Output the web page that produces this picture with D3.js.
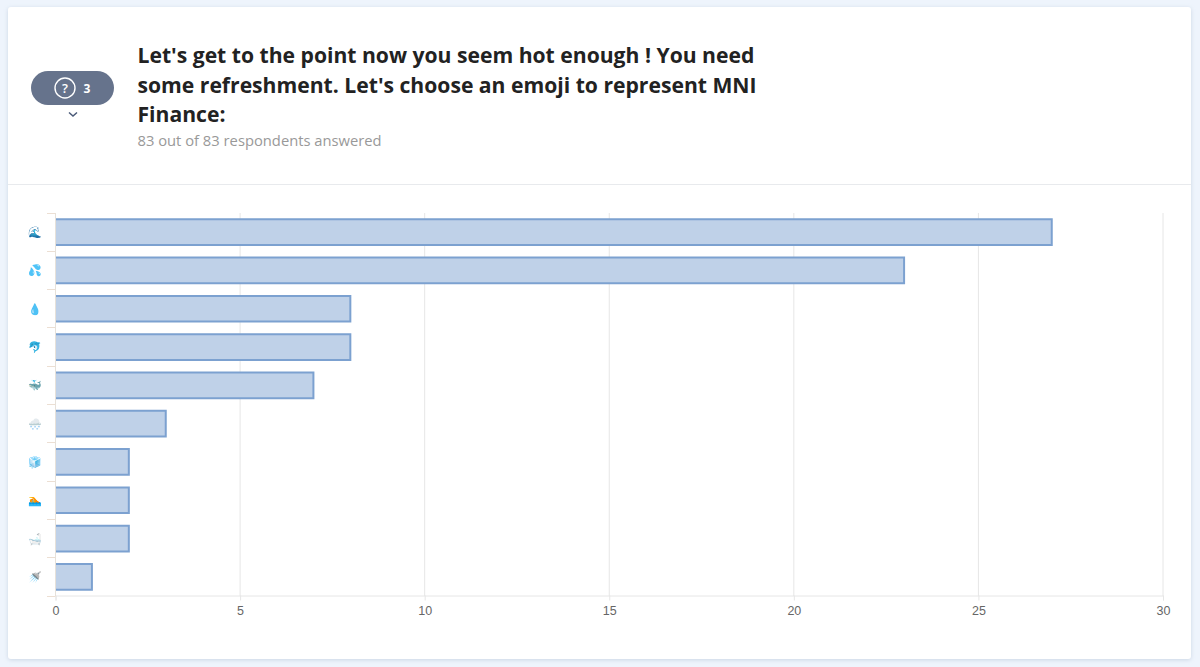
<!DOCTYPE html>
<html><head><meta charset="utf-8">
<script src="https://cdnjs.cloudflare.com/ajax/libs/d3/7.8.5/d3.min.js"></script>
<style>html,body{margin:0;padding:0;background:#eef4fc;width:1200px;height:667px;overflow:hidden}</style>
</head><body><div id="chart"></div>
<script>
const categories = ["🌊","💦","💧","🐬","🐳","🌨","🧊","🏊","🛁","🚿"];
const values = [27,23,8,8,7,3,2,2,2,1];
const xTicks = [0,5,10,15,20,25,30];
const titleLines = ["Let's get to the point now you seem hot enough ! You need","some refreshment. Let's choose an emoji to represent MNI","Finance:"];
const subtitle = "83 out of 83 respondents answered";
const questionNumber = "3";

const svg = d3.select("#chart").append("svg").attr("width",1200).attr("height",667).style("display","block");
const font = "'Open Sans','Noto Sans',sans-serif";
const defs = svg.append("defs");
const f = defs.append("filter").attr("id","sh").attr("x","-2%").attr("y","-2%").attr("width","104%").attr("height","104%");
f.append("feDropShadow").attr("dx",0).attr("dy",1).attr("stdDeviation",2).attr("flood-color","#9fb2c8").attr("flood-opacity",0.45);
svg.append("rect").attr("x",8).attr("y",7).attr("width",1183).attr("height",652).attr("rx",3).attr("fill","#fff").attr("filter","url(#sh)");
svg.append("line").attr("x1",8).attr("x2",1191).attr("y1",184.5).attr("y2",184.5).attr("stroke","#e8eaed");

// header
svg.append("rect").attr("x",31).attr("y",71).attr("width",83).attr("height",34).attr("rx",17).attr("fill","#66738c");
svg.append("circle").attr("cx",65).attr("cy",88).attr("r",10).attr("fill","none").attr("stroke","#fff").attr("stroke-width",1.4);
svg.append("text").attr("x",65).attr("y",93).attr("text-anchor","middle").attr("font-family",font).attr("font-size",13).attr("font-weight",600).attr("fill","#fff").text("?");
svg.append("text").attr("x",87).attr("y",93).attr("text-anchor","middle").attr("font-family",font).attr("font-size",12).attr("font-weight",700).attr("fill","#fff").text(questionNumber);
svg.append("path").attr("d","M69 112.5l4 3.5l4-3.5").attr("fill","none").attr("stroke","#4a5a78").attr("stroke-width",1.5);
svg.selectAll(".title").data(titleLines).join("text").attr("class","title")
  .attr("x",137.5).attr("y",(d,i)=>63+i*29.5).attr("font-family",font).attr("font-size",21.14).attr("font-weight",700).attr("fill","#222").text(d=>d);
svg.append("text").attr("x",137.5).attr("y",146).attr("font-family",font).attr("font-size",14.75).attr("fill","#999").text(subtitle);

// chart
const x = d3.scaleLinear().domain([0,30]).range([55.5,1163]);
const y = d3.scaleBand().domain(categories).range([213,596]).paddingInner(0.33).paddingOuter(0.165);
const tickCol = "#e6e6e6";
svg.append("g").selectAll("line").data(xTicks).join("line")
  .attr("x1",d=>x(d)).attr("x2",d=>x(d)).attr("y1",213).attr("y2",596).attr("stroke",tickCol).attr("stroke-width",1);
const xAxis = svg.append("g").attr("transform","translate(0,595.5)")
  .call(d3.axisBottom(x).tickValues(xTicks).tickSize(5).tickPadding(6));
xAxis.select(".domain").attr("stroke","#e6e6e6");
xAxis.selectAll("line").attr("stroke",tickCol);
xAxis.selectAll("text").attr("font-family","'Liberation Sans',Arial,sans-serif").attr("font-size",12.5).attr("fill","#666");

// category separators on the y axis
const ends = d3.range(categories.length+1).map(i=>212.5+i*y.step());
svg.append("g").selectAll("line").data(ends).join("line")
  .attr("x1",47).attr("x2",55.5).attr("y1",d=>Math.round(d)+.5).attr("y2",d=>Math.round(d)+.5).attr("stroke","#ecdfd3");

// bars: open on the axis side, as in the reference
const bars = svg.append("g").selectAll("g").data(values).join("g");
bars.append("rect")
  .attr("x",x(0)).attr("y",(d,i)=>y(categories[i]))
  .attr("width",d=>x(d)-x(0)-.5).attr("height",y.bandwidth())
  .attr("fill","#bfd1e8");
bars.append("path")
  .attr("d",(d,i)=>{const t=y(categories[i]),b=t+y.bandwidth();return `M${x(0)+.5} ${t}H${x(d)-.5}V${b}H${x(0)+.5}`;})
  .attr("fill","none").attr("stroke","#7ca1d0").attr("stroke-width",2);
svg.append("line").attr("x1",55.5).attr("x2",55.5).attr("y1",213).attr("y2",596).attr("stroke","#e6e1da");

svg.append("g").selectAll("text").data(categories).join("text")
  .attr("x",35).attr("y",d=>y(d)+y.bandwidth()/2+4).attr("text-anchor","middle").attr("font-size",11)
  .attr("font-family","'Noto Color Emoji','Noto Sans CJK SC',sans-serif").attr("fill","#4a90c0").text(d=>d);
</script></body></html>
